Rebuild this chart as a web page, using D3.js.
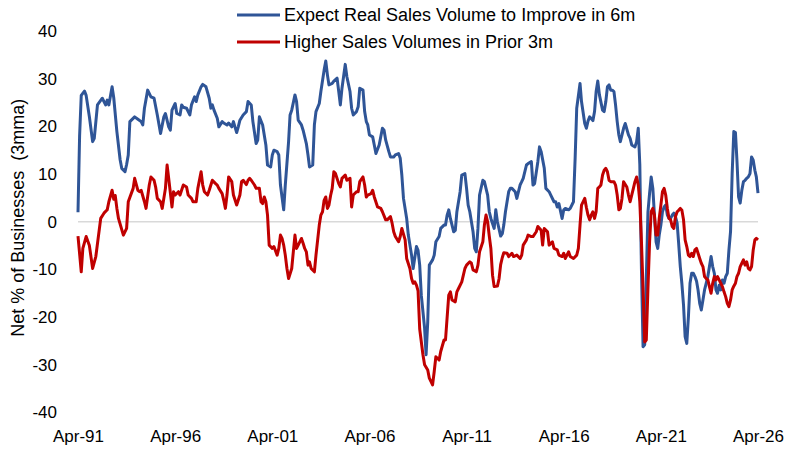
<!DOCTYPE html>
<html>
<head>
<meta charset="utf-8">
<script src="https://cdn.jsdelivr.net/npm/d3@7"></script>
<style>
  body { margin: 0; background: #fff; }
  svg { display: block; font-family: "Liberation Sans", Arial, sans-serif; }
</style>
</head>
<body>
<svg id="chart" width="786" height="456"></svg>
<script>
// series names (legend order)
const seriesNames = ["Expect Real Sales Volume to Improve in 6m", "Higher Sales Volumes in Prior 3m"];
const seriesColors = ["#2f5597", "#c00000"];

const yTicks = [40, 30, 20, 10, 0, -10, -20, -30, -40];
const xTickLabels = ["Apr-91", "Apr-96", "Apr-01", "Apr-06", "Apr-11", "Apr-16", "Apr-21", "Apr-26"];

// Expect Real Sales Volume to Improve in 6m (net %, 3mma)
const expectData = [
  ["1991-04", 2], ["1991-05", 18], ["1991-06", 26.5], ["1991-08", 27.4], ["1991-09", 26.5], ["1991-11", 22],
  ["1992-01", 16.8], ["1992-02", 17.5], ["1992-04", 24.5], ["1992-07", 25.9], ["1992-09", 24.5], ["1992-10", 25.5], ["1992-11", 24.5],
  ["1993-01", 28.3], ["1993-02", 26], ["1993-04", 18.9], ["1993-06", 13], ["1993-07", 11.2], ["1993-09", 10.5], ["1993-10", 12], ["1993-11", 14], ["1993-12", 21],
  ["1994-03", 22], ["1994-05", 21.5], ["1994-07", 21], ["1994-08", 20.3], ["1994-09", 23.8], ["1994-11", 27.6],
  ["1995-01", 26.2], ["1995-03", 25.9], ["1995-05", 22.4], ["1995-07", 18.5], ["1995-09", 22], ["1995-10", 22.7], ["1995-12", 19.9],
  ["1996-01", 19.2], ["1996-02", 23.4], ["1996-04", 24.8], ["1996-05", 22.7], ["1996-07", 22.4], ["1996-08", 24.5], ["1996-09", 24], ["1996-11", 23.8],
  ["1997-01", 22.4], ["1997-02", 24.5], ["1997-04", 26.2], ["1997-05", 25.2], ["1997-06", 26.6], ["1997-08", 28.3], ["1997-09", 28.8], ["1997-11", 28.3],
  ["1998-01", 25.9], ["1998-02", 23.8], ["1998-03", 24.5], ["1998-04", 23.4], ["1998-06", 21.7], ["1998-07", 19.9], ["1998-09", 21], ["1998-10", 20.7], ["1998-12", 20.3],
  ["1999-01", 20.7], ["1999-03", 19.9], ["1999-04", 21], ["1999-06", 18.7], ["1999-07", 19.9], ["1999-08", 21.3], ["1999-10", 22.4], ["1999-12", 23.1],
  ["2000-01", 25.2], ["2000-03", 24.5], ["2000-04", 21], ["2000-06", 16.4], ["2000-07", 17.1], ["2000-08", 22], ["2000-10", 20.3], ["2000-12", 16.1],
  ["2001-01", 11.9], ["2001-03", 11.5], ["2001-04", 14], ["2001-05", 15], ["2001-07", 14.7], ["2001-08", 14], ["2001-09", 7.7], ["2001-11", 2.5], ["2001-12", 7.7],
  ["2002-02", 16.8], ["2002-03", 22.4], ["2002-04", 23.4], ["2002-06", 26.6], ["2002-07", 25.2], ["2002-08", 21.3], ["2002-10", 20.3], ["2002-11", 19.2],
  ["2003-01", 16.4], ["2003-02", 14], ["2003-03", 11.5], ["2003-05", 11.9], ["2003-06", 20.3], ["2003-07", 23.1], ["2003-09", 24.8], ["2003-10", 27.3], ["2003-12", 31.8],
  ["2004-01", 33.7], ["2004-02", 30.8], ["2004-03", 28.7], ["2004-05", 29], ["2004-06", 29.5], ["2004-08", 30.1], ["2004-09", 27.3], ["2004-10", 24.5], ["2004-11", 28],
  ["2005-01", 33], ["2005-02", 30.4], ["2005-04", 27.3], ["2005-05", 23.8], ["2005-06", 22.4], ["2005-08", 23.1], ["2005-09", 24.1], ["2005-10", 28], ["2005-12", 27.6],
  ["2006-01", 23.1], ["2006-02", 21], ["2006-03", 20.3], ["2006-04", 18.2], ["2006-06", 17.8], ["2006-07", 16.1], ["2006-08", 14.3], ["2006-10", 16.1], ["2006-12", 19.6],
  ["2007-01", 19.2], ["2007-02", 17.1], ["2007-04", 14.7], ["2007-05", 13.6], ["2007-07", 13.6], ["2007-08", 14], ["2007-10", 14.3], ["2007-11", 13.3], ["2007-12", 9.8],
  ["2008-01", 4.9], ["2008-03", 0.7], ["2008-04", -2.8], ["2008-06", -7], ["2008-07", -9.8], ["2008-09", -5.2], ["2008-10", -6], ["2008-11", -9.1], ["2008-12", -15.4],
  ["2009-02", -22.3], ["2009-03", -27.9], ["2009-04", -21], ["2009-05", -9.1], ["2009-07", -8], ["2009-08", -7], ["2009-09", -4.2], ["2009-11", -3.1], ["2009-12", -1.4],
  ["2010-02", -0.7], ["2010-03", -0.7], ["2010-04", 1.4], ["2010-05", 2.5], ["2010-06", 0.7], ["2010-08", -2.1], ["2010-09", -1.8], ["2010-10", 2.1], ["2010-12", 6.3],
  ["2011-01", 9.8], ["2011-03", 10.1], ["2011-04", 7], ["2011-05", 3.5], ["2011-06", 2.1], ["2011-08", -2.1], ["2011-09", -5.6], ["2011-10", -6.3], ["2011-11", -1.4], ["2011-12", 5.6],
  ["2012-02", 8.7], ["2012-03", 8.4], ["2012-05", 5.6], ["2012-06", 2.1], ["2012-07", 0.7], ["2012-09", -1.4], ["2012-10", 2.5], ["2012-11", 0],
  ["2013-01", -3], ["2013-02", -2.5], ["2013-03", -0.7], ["2013-04", 2.1], ["2013-06", 6.3], ["2013-07", 7], ["2013-08", 7], ["2013-10", 6.3], ["2013-11", 4.9],
  ["2014-01", 7.7], ["2014-02", 8.4], ["2014-03", 9.1], ["2014-05", 11.9], ["2014-06", 12.2], ["2014-08", 12.6], ["2014-09", 7.7], ["2014-10", 8], ["2014-12", 12.6],
  ["2015-01", 15.7], ["2015-02", 14.7], ["2015-04", 11.2], ["2015-05", 7], ["2015-07", 6.3], ["2015-08", 5.6], ["2015-10", 4.2], ["2015-11", 4.2], ["2015-12", 3.1],
  ["2016-01", 3.8], ["2016-03", 0.7], ["2016-04", 2.5], ["2016-05", 2.8], ["2016-07", 2.5], ["2016-08", 2.8], ["2016-10", 4.2], ["2016-11", 13.3], ["2016-12", 23.8],
  ["2017-02", 29], ["2017-03", 25.2], ["2017-05", 20.6], ["2017-06", 19.6], ["2017-07", 21.1], ["2017-08", 22], ["2017-10", 21.2], ["2017-11", 23.1], ["2017-12", 27.3],
  ["2018-01", 29.5], ["2018-02", 26.6], ["2018-04", 23.4], ["2018-05", 23.1], ["2018-06", 25.2], ["2018-07", 28.3], ["2018-08", 28.7], ["2018-09", 27.6], ["2018-10", 27.6], ["2018-11", 27.3], ["2018-12", 24.5],
  ["2019-01", 21], ["2019-02", 18.2], ["2019-03", 16.8], ["2019-05", 19.6], ["2019-06", 20.6], ["2019-08", 18.2], ["2019-09", 17.5], ["2019-10", 16.1], ["2019-12", 15.7],
  ["2020-01", 16.8], ["2020-02", 19.6], ["2020-03", 12], ["2020-04", -10], ["2020-05", -26.2], ["2020-06", -25.8], ["2020-07", -12], ["2020-08", 2], ["2020-09", 6], ["2020-10", 9.4], ["2020-11", 7], ["2020-12", 1.4],
  ["2021-01", -4.2], ["2021-02", -5.6], ["2021-03", -2.8], ["2021-04", -0.7], ["2021-05", 2.1], ["2021-06", 3.1], ["2021-07", 3.5], ["2021-08", 1.4], ["2021-09", 0.7], ["2021-10", 0.7], ["2021-11", 1.4], ["2021-12", 1.8],
  ["2022-01", 1], ["2022-02", -0.3], ["2022-03", -4.5], ["2022-04", -9.4], ["2022-05", -13], ["2022-06", -17.5], ["2022-07", -24.1], ["2022-08", -25.5], ["2022-09", -19.9], ["2022-10", -12.9], ["2022-11", -10.8], ["2022-12", -10.8],
  ["2023-01", -11.5], ["2023-02", -12.5], ["2023-03", -14.3], ["2023-04", -17.1], ["2023-05", -18.5], ["2023-06", -16.4], ["2023-07", -14.3], ["2023-08", -12.9], ["2023-09", -11.5], ["2023-10", -9.4], ["2023-11", -7.3], ["2023-12", -9.4],
  ["2024-01", -10.8], ["2024-02", -14.3], ["2024-03", -15], ["2024-04", -13.3], ["2024-05", -14.3], ["2024-06", -12.2], ["2024-07", -12.9], ["2024-08", -11.5], ["2024-09", -10.8], ["2024-10", -6], ["2024-11", -2], ["2024-12", 10],
  ["2025-01", 18.9], ["2025-02", 18.7], ["2025-03", 12.9], ["2025-04", 5.2], ["2025-05", 3.9], ["2025-06", 6.6], ["2025-07", 8.4], ["2025-08", 8.7], ["2025-09", 9.1], ["2025-10", 9.4], ["2025-11", 10.1], ["2025-12", 13.6],
  ["2026-01", 12.9], ["2026-02", 10.8], ["2026-03", 9.4], ["2026-04", 6]
];

// Higher Sales Volumes in Prior 3m (net %, 3mma)
const priorData = [
  ["1991-04", -3], ["1991-06", -10.5], ["1991-07", -5.6], ["1991-09", -3.1], ["1991-11", -5],
  ["1992-01", -9.8], ["1992-03", -7.3], ["1992-06", 0.7], ["1992-08", 1.8], ["1992-10", 2.5], ["1992-11", 4.2],
  ["1993-01", 6.6], ["1993-02", 4.7], ["1993-03", 5.5], ["1993-04", 2.8], ["1993-05", 0.7], ["1993-08", -2.8], ["1993-10", -1.4], ["1993-11", 4.2],
  ["1994-02", 7], ["1994-03", 9.1], ["1994-05", 6.6], ["1994-06", 6.3], ["1994-07", 6.6], ["1994-09", 4.2], ["1994-10", 2.8], ["1994-12", 7.7],
  ["1995-01", 9.4], ["1995-03", 8.7], ["1995-04", 7.2], ["1995-05", 4.9], ["1995-07", 4.2], ["1995-08", 2.8], ["1995-10", 7], ["1995-11", 11.9], ["1995-12", 9.1],
  ["1996-02", 3.1], ["1996-03", 6.3], ["1996-04", 5.6], ["1996-06", 6.3], ["1996-07", 5.6], ["1996-09", 7.7], ["1996-11", 7.3], ["1996-12", 5.6],
  ["1997-02", 4.9], ["1997-03", 4.2], ["1997-05", 4.2], ["1997-06", 7], ["1997-08", 10.5], ["1997-09", 7.7], ["1997-10", 6.3], ["1997-12", 5.6],
  ["1998-01", 6.6], ["1998-03", 8.7], ["1998-05", 8], ["1998-06", 7.7], ["1998-07", 7], ["1998-09", 5.9], ["1998-10", 4.5], ["1998-11", 2.8], ["1998-12", 5.6],
  ["1999-01", 9.4], ["1999-03", 8.4], ["1999-04", 5.6], ["1999-06", 3.5], ["1999-08", 5.6], ["1999-09", 8.4], ["1999-10", 8.7], ["1999-12", 7.8],
  ["2000-01", 8.7], ["2000-02", 9.1], ["2000-03", 8.7], ["2000-05", 7.7], ["2000-06", 7], ["2000-08", 7], ["2000-09", 4.2], ["2000-10", 3.8], ["2000-11", 5.2], ["2000-12", 4.2],
  ["2001-01", 1.4], ["2001-02", -4.9], ["2001-04", -5.6], ["2001-05", -5.2], ["2001-07", -7], ["2001-08", -5.6], ["2001-09", -2.8], ["2001-10", -3.5], ["2001-11", -4.9], ["2001-12", -7],
  ["2002-01", -9.8], ["2002-02", -11.9], ["2002-04", -9.8], ["2002-05", -6.3], ["2002-06", -2.8], ["2002-07", -5.6], ["2002-08", -4.9], ["2002-10", -3.5], ["2002-11", -4.5], ["2002-12", -5.6],
  ["2003-01", -6.3], ["2003-02", -9.1], ["2003-03", -8.4], ["2003-04", -9.8], ["2003-06", -10.5], ["2003-07", -7], ["2003-09", -0.7], ["2003-10", 1.4], ["2003-11", 2.1], ["2003-12", 4.5],
  ["2004-01", 5.2], ["2004-02", 2.8], ["2004-03", 3.5], ["2004-04", 5.5], ["2004-05", 7], ["2004-06", 10.5], ["2004-07", 10.1], ["2004-09", 8], ["2004-10", 7.3], ["2004-11", 9.1],
  ["2005-01", 9.8], ["2005-02", 8.7], ["2005-04", 9.1], ["2005-05", 3.1], ["2005-06", 5.6], ["2005-08", 6.3], ["2005-09", 6.3], ["2005-10", 8.4], ["2005-12", 9.4],
  ["2006-01", 7.7], ["2006-02", 5.2], ["2006-03", 5.6], ["2006-05", 5.9], ["2006-06", 6.6], ["2006-07", 5.2], ["2006-09", 3.1], ["2006-11", 2.8], ["2006-12", 2.1],
  ["2007-02", 0.4], ["2007-03", 0.4], ["2007-05", 1.1], ["2007-06", -0.3], ["2007-07", -2.1], ["2007-08", -3.1], ["2007-10", -4.2], ["2007-11", -3.1], ["2007-12", -1.4],
  ["2008-02", -3.8], ["2008-03", -7.7], ["2008-05", -9.8], ["2008-06", -11.9], ["2008-07", -12.9], ["2008-08", -12.6], ["2008-09", -13.3], ["2008-10", -14.5], ["2008-11", -22.5],
  ["2009-01", -27.9], ["2009-02", -30], ["2009-04", -31.1], ["2009-05", -32.8], ["2009-07", -34.2], ["2009-08", -31.4], ["2009-09", -28.3], ["2009-11", -29], ["2009-12", -27.2],
  ["2010-02", -24.8], ["2010-03", -24.8], ["2010-05", -15.4], ["2010-06", -14.7], ["2010-07", -16.4], ["2010-09", -16.8], ["2010-10", -14.7], ["2010-11", -14],
  ["2011-01", -12.6], ["2011-03", -9.8], ["2011-04", -9.1], ["2011-06", -8.4], ["2011-07", -8.7], ["2011-08", -10.1], ["2011-10", -10.5], ["2011-11", -9.1], ["2011-12", -6.3],
  ["2012-02", -4.2], ["2012-03", -0.7], ["2012-04", 1.4], ["2012-05", 0], ["2012-06", -3], ["2012-07", -5.6], ["2012-08", -11.2], ["2012-09", -13.6], ["2012-11", -13.5], ["2012-12", -12],
  ["2013-01", -9], ["2013-02", -7.5], ["2013-03", -6.5], ["2013-05", -6.6], ["2013-06", -7.3], ["2013-08", -6.6], ["2013-09", -7.3], ["2013-11", -7],
  ["2014-01", -7.7], ["2014-02", -7], ["2014-03", -4.9], ["2014-05", -3.8], ["2014-06", -2.8], ["2014-08", -3.1], ["2014-09", -3.1], ["2014-11", -2.1], ["2014-12", -1],
  ["2015-02", -1.8], ["2015-03", -4.9], ["2015-04", -1.4], ["2015-06", -2.1], ["2015-07", -4.9], ["2015-09", -4.2], ["2015-10", -5.6], ["2015-12", -5.9],
  ["2016-01", -7], ["2016-03", -7.3], ["2016-04", -6.6], ["2016-05", -7.7], ["2016-07", -6.3], ["2016-08", -7.3], ["2016-10", -7.7], ["2016-12", -7],
  ["2017-01", -5.6], ["2017-02", -0.7], ["2017-03", 3.5], ["2017-05", 4.9], ["2017-06", 3], ["2017-07", 1.4], ["2017-08", 0.4], ["2017-09", 1.4], ["2017-10", 2.1], ["2017-11", 0.7], ["2017-12", 2.1],
  ["2018-01", 7], ["2018-02", 7.3], ["2018-03", 7.7], ["2018-04", 9.8], ["2018-05", 10.8], ["2018-06", 11.2], ["2018-07", 10.5], ["2018-08", 8.7], ["2018-09", 8.4], ["2018-11", 8.4], ["2018-12", 7.7],
  ["2019-01", 5.6], ["2019-02", 2.5], ["2019-03", 2.8], ["2019-04", 4.9], ["2019-05", 8.4], ["2019-07", 7.3], ["2019-08", 5.6], ["2019-09", 4.2], ["2019-10", 5.6], ["2019-11", 7], ["2019-12", 8.4],
  ["2020-01", 9.4], ["2020-02", 7.7], ["2020-03", 4.2], ["2020-04", -4.2], ["2020-05", -14], ["2020-06", -25.2], ["2020-07", -24.8], ["2020-08", -14], ["2020-09", -4.2], ["2020-10", 2.1], ["2020-11", 2.8], ["2020-12", 1.4],
  ["2021-01", -2.8], ["2021-02", -2.8], ["2021-03", 0.7], ["2021-04", 3.5], ["2021-05", 6.3], ["2021-06", 7], ["2021-07", 5.6], ["2021-08", 2.8], ["2021-09", 0.7], ["2021-10", 0.4], ["2021-11", -1], ["2021-12", -1.4],
  ["2022-01", 1.1], ["2022-02", 2.1], ["2022-03", 2.4], ["2022-04", 2.8], ["2022-05", 2.4], ["2022-06", 0.4], ["2022-07", -3.8], ["2022-08", -5.2], ["2022-09", -7], ["2022-10", -7.3], ["2022-11", -6.6], ["2022-12", -7.3],
  ["2023-01", -5.9], ["2023-02", -5.6], ["2023-03", -6.6], ["2023-04", -7.7], ["2023-05", -8.7], ["2023-06", -9.4], ["2023-07", -11.5], ["2023-08", -11.9], ["2023-09", -12.2], ["2023-10", -13.6], ["2023-11", -15], ["2023-12", -12.9],
  ["2024-01", -11.5], ["2024-02", -12.2], ["2024-03", -11.5], ["2024-04", -12.2], ["2024-05", -12.9], ["2024-06", -13.6], ["2024-07", -14.7], ["2024-08", -15.7], ["2024-09", -17.1], ["2024-10", -17.8], ["2024-11", -16.4], ["2024-12", -14.3],
  ["2025-01", -13.5], ["2025-02", -12.9], ["2025-03", -11.5], ["2025-04", -10.8], ["2025-05", -9.4], ["2025-06", -8.7], ["2025-07", -8], ["2025-08", -9.1], ["2025-09", -8.4], ["2025-10", -9.8], ["2025-11", -10.1], ["2025-12", -9.4],
  ["2026-01", -5.9], ["2026-02", -3.8], ["2026-03", -3.5], ["2026-04", -3.8]
];

const parseMonth = d3.timeParse("%Y-%m");
const parseTick = d3.timeParse("%b-%y");

const svg = d3.select("#chart");

const plotLeft = 78, plotRight = 758, plotTop = 31, plotBottom = 412.5;

const xScale = d3.scaleTime()
    .domain([parseTick(xTickLabels[0]), parseTick(xTickLabels[xTickLabels.length - 1])])
    .range([plotLeft, plotRight]);

const yScale = d3.scaleLinear()
    .domain([d3.min(yTicks), d3.max(yTicks)])
    .range([plotBottom, plotTop]);

// zero line
svg.append("line")
    .attr("x1", plotLeft)
    .attr("x2", plotRight)
    .attr("y1", yScale(0))
    .attr("y2", yScale(0))
    .attr("stroke", "#d9d9d9")
    .attr("stroke-width", 1.5);

// y axis (labels only), plain hyphen for negatives like the original
const yAxis = svg.append("g")
    .attr("transform", `translate(${plotLeft - 21}, 0)`)
    .call(d3.axisLeft(yScale)
        .tickValues(yTicks)
        .tickFormat(d => String(d))
        .tickSize(0)
        .tickPadding(0));
yAxis.select(".domain").remove();
yAxis.selectAll("text")
    .attr("font-family", "Liberation Sans, Arial, sans-serif")
    .attr("font-size", 17)
    .attr("fill", "#000");

// x axis (labels only)
const xAxis = svg.append("g")
    .attr("transform", `translate(0, ${plotBottom + 17})`)
    .call(d3.axisBottom(xScale)
        .tickValues(xTickLabels.map(parseTick))
        .tickFormat((d, i) => xTickLabels[i])
        .tickSize(0)
        .tickPadding(0));
xAxis.select(".domain").remove();
xAxis.selectAll("text")
    .attr("font-family", "Liberation Sans, Arial, sans-serif")
    .attr("font-size", 17)
    .attr("fill", "#000");

// y axis title
svg.append("text")
    .attr("transform", `translate(24, ${(plotTop + plotBottom) / 2 - 4}) rotate(-90)`)
    .attr("text-anchor", "middle")
    .attr("font-size", 18)
    .attr("fill", "#000")
    .style("white-space", "pre")
    .text("Net % of Businesses  (3mma)");

const line = d3.line()
    .x(d => xScale(parseMonth(d[0])))
    .y(d => yScale(d[1]));

[expectData, priorData].forEach((data, i) => {
    svg.append("path")
        .datum(data)
        .attr("fill", "none")
        .attr("stroke", seriesColors[i])
        .attr("stroke-width", 3)
        .attr("stroke-linejoin", "round")
        .attr("d", line);
});

// legend
const legend = svg.append("g");
seriesNames.forEach((name, i) => {
    const y = 15 + i * 27;
    legend.append("line")
        .attr("x1", 237)
        .attr("x2", 280)
        .attr("y1", y)
        .attr("y2", y)
        .attr("stroke", seriesColors[i])
        .attr("stroke-width", 3);
    legend.append("text")
        .attr("x", 284)
        .attr("y", y)
        .attr("dy", "0.35em")
        .attr("font-size", 18)
        .attr("fill", "#000")
        .text(name);
});
</script>
</body>
</html>
